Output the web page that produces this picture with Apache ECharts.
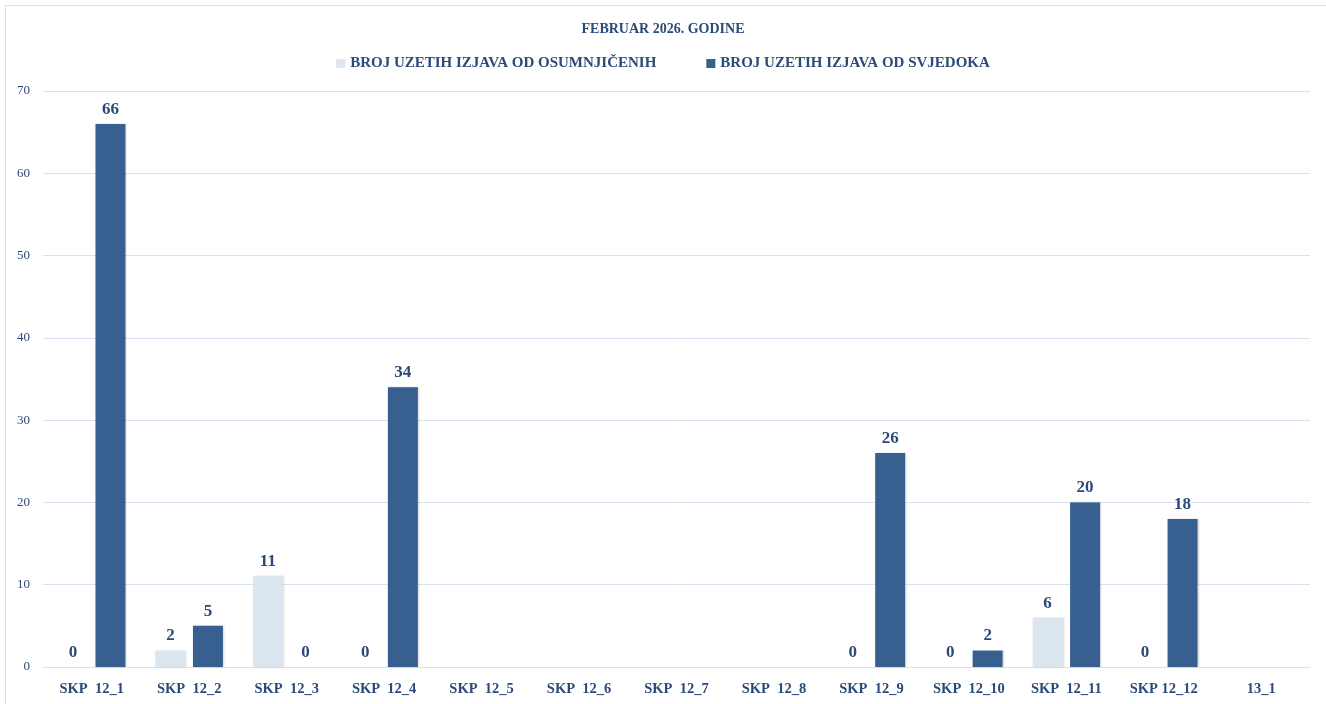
<!DOCTYPE html>
<html>
<head>
<meta charset="utf-8">
<script src="https://cdn.jsdelivr.net/npm/echarts@6/dist/echarts.min.js"></script>
<style>
  html, body { margin: 0; padding: 0; background: #fff; }
  #chart { width: 1326px; height: 704px; }
</style>
</head>
<body>
<div id="chart"></div>
<script>
// kategorije i vrijednosti
const categories = ['SKP  12_1', 'SKP  12_2', 'SKP  12_3', 'SKP  12_4', 'SKP  12_5', 'SKP  12_6', 'SKP  12_7', 'SKP  12_8', 'SKP  12_9', 'SKP  12_10', 'SKP  12_11', 'SKP 12_12', '13_1']
const osumnjiceni = [0, 2, 11, 0, null, null, null, null, 0, 0, 6, 0, null]
const svjedoci = [66, 5, 0, 34, null, null, null, null, 26, 2, 20, 18, null]
const yTicks = [0, 10, 20, 30, 40, 50, 60, 70]

const textColor = '#2c4a78'
const labelFont = '"Liberation Serif", "DejaVu Serif", serif'

const myChart = echarts.init(document.querySelector('#chart'))

const barLabel = {
  show: true,
  position: 'top',
  distance: 6,
  color: textColor,
  fontFamily: labelFont,
  fontWeight: 'bold',
  fontSize: 17
}

const option = {
  animation: false,
  title: {
    text: 'FEBRUAR 2026. GODINE',
    left: 'center',
    top: 17,
    textStyle: { color: textColor, fontFamily: labelFont, fontWeight: 'bold', fontSize: 14 }
  },
  legend: {
    top: 51,
    left: 'center',
    itemWidth: 9,
    itemHeight: 9,
    itemGap: 50,
    icon: 'rect',
    textStyle: { color: textColor, fontFamily: labelFont, fontWeight: 'bold', fontSize: 15 },
    data: ['BROJ UZETIH IZJAVA OD OSUMNJIČENIH', 'BROJ UZETIH IZJAVA OD SVJEDOKA']
  },
  graphic: [{
    type: 'rect',
    shape: { x: 5.5, y: 5.5, width: 1340, height: 720 },
    style: { fill: 'none', stroke: '#d6e0ee', lineWidth: 1 },
    silent: true
  }],
  grid: { left: 43, right: 16, top: 91, bottom: 37 },
  xAxis: {
    type: 'category',
    data: categories,
    axisLine: { show: true, lineStyle: { color: '#d6e2f0' } },
    axisTick: { show: false },
    axisLabel: {
      interval: 0,
      margin: 15,
      color: textColor,
      fontFamily: labelFont,
      fontWeight: 'bold',
      fontSize: 14.5
    }
  },
  yAxis: {
    type: 'value',
    min: yTicks[0],
    max: yTicks[yTicks.length - 1],
    interval: 10,
    axisLine: { show: false },
    axisTick: { show: false },
    splitLine: { lineStyle: { color: '#d6e2f0' } },
    axisLabel: { margin: 13, color: textColor, fontFamily: labelFont, fontSize: 13 }
  },
  series: [
    {
      name: 'BROJ UZETIH IZJAVA OD OSUMNJIČENIH',
      type: 'bar',
      data: osumnjiceni,
      barWidth: 30,
      barGap: '25%',
      itemStyle: { color: '#dce6f1', shadowColor: 'rgba(0,0,0,0.15)', shadowBlur: 2, shadowOffsetX: 1 },
      label: barLabel
    },
    {
      name: 'BROJ UZETIH IZJAVA OD SVJEDOKA',
      type: 'bar',
      data: svjedoci,
      barWidth: 30,
      itemStyle: { color: '#375f8f', shadowColor: 'rgba(0,0,0,0.15)', shadowBlur: 2, shadowOffsetX: 1 },
      label: barLabel
    }
  ]
}
myChart.setOption(option)
</script>
</body>
</html>
